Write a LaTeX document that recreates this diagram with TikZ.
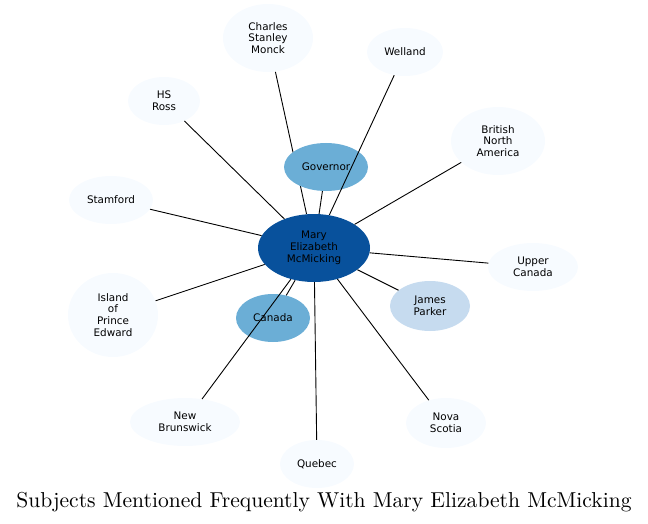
\documentclass[tikz,border=0pt]{standalone}
\usepackage{fontspec}
\newfontfamily\nodefont{DejaVu Sans}
\usetikzlibrary{shapes.geometric, backgrounds}

\definecolor{hub}{HTML}{08519C}
\definecolor{midblue}{HTML}{6BAED6}
\definecolor{paleblue}{HTML}{C6DBEF}
\definecolor{faintblue}{HTML}{F7FBFF}

\begin{document}
\begin{tikzpicture}[
	x=1pt, y=-1pt,
	topic/.style={ellipse, fill=faintblue, inner sep=0pt, align=center, font=\nodefont\fontsize{10.4}{11.8}\selectfont},
	hubnode/.style={topic, fill=hub, minimum width=112pt, minimum height=68pt},
	near/.style={topic, fill=midblue},
	mid/.style={topic, fill=paleblue},
	link/.style={draw, line width=0.9pt}
]
	\useasboundingbox (0,0) rectangle (648,524);

	\node[hubnode] (mary) at (314,248) {Mary\\Elizabeth\\McMicking};
	\node[near, minimum width=84pt, minimum height=48pt] (governor) at (326,167) {Governor};
	\node[near, minimum width=74pt, minimum height=48pt] (canada) at (273,318) {Canada};
	\node[mid, minimum width=80pt, minimum height=50pt] (parker) at (430,306) {James\\Parker};
	\node[topic, minimum width=90pt, minimum height=68pt] (monck) at (268,38) {Charles\\Stanley\\Monck};
	\node[topic, minimum width=76pt, minimum height=48pt] (welland) at (405,52) {Welland};
	\node[topic, minimum width=72pt, minimum height=48pt] (ross) at (164,101) {HS\\Ross};
	\node[topic, minimum width=94pt, minimum height=68pt] (bna) at (498,141) {British\\North\\America};
	\node[topic, minimum width=84pt, minimum height=48pt] (stamford) at (111,200) {Stamford};
	\node[topic, minimum width=90pt, minimum height=48pt] (upper) at (533,267) {Upper\\Canada};
	\node[topic, minimum width=90pt, minimum height=84pt] (island) at (113,315) {Island\\of\\Prince\\Edward};
	\node[topic, minimum width=110pt, minimum height=48pt] (brunswick) at (185,422) {New\\Brunswick};
	\node[topic, minimum width=80pt, minimum height=50pt] (nova) at (446,423) {Nova\\Scotia};
	\node[topic, minimum width=74pt, minimum height=48pt] (quebec) at (317,464) {Quebec};

	\node[inner sep=0pt] (title) at (324,502) {\resizebox{615pt}{!}{\fontsize{10}{12}\selectfont Subjects Mentioned Frequently With Mary Elizabeth McMicking}};

	% edge that runs behind the Governor node
	\begin{pgfonlayer}{background}
		\draw[link] (monck) -- (mary);
	\end{pgfonlayer}

	\draw[link] (governor) -- (mary);
	\draw[link] (welland) -- (mary);
	\draw[link] (ross) -- (mary);
	\draw[link] (bna) -- (mary);
	\draw[link] (stamford) -- (mary);
	\draw[link] (upper) -- (mary);
	\draw[link] (island) -- (mary);
	\draw[link] (parker) -- (mary);
	\draw[link] (canada) -- (mary);
	\draw[link] (brunswick) -- (mary);
	\draw[link] (quebec) -- (mary);
	\draw[link] (nova) -- (mary);
\end{tikzpicture}
\end{document}
